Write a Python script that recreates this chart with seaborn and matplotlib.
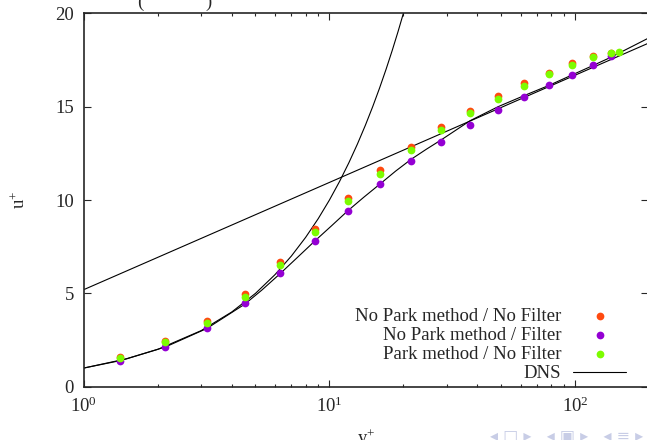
import numpy as np
import pandas as pd
import matplotlib
matplotlib.use("Agg")
import matplotlib.pyplot as plt
import seaborn as sns
from matplotlib.ticker import LogLocator, NullFormatter, FixedLocator

# y+ positions of the computed points
yplus = [1.41, 2.15, 3.17, 4.52, 6.29, 8.71, 11.87, 16.07, 21.5, 28.5,
         37.4, 48.6, 62.2, 78.6, 97.2, 118.0, 140.0]
yplus_park = yplus + [151.0]

# u+ for each run
u_nopark_nofilt = [1.61, 2.45, 3.54, 4.95, 6.66, 8.43, 10.12, 11.59, 12.85, 13.89,
                   14.78, 15.57, 16.25, 16.82, 17.35, 17.73, 17.90]
u_nopark_filt = [1.39, 2.14, 3.16, 4.50, 6.07, 7.79, 9.41, 10.84, 12.09, 13.12,
                 14.02, 14.82, 15.53, 16.16, 16.71, 17.23, 17.73]
u_park_nofilt = [1.55, 2.38, 3.43, 4.82, 6.52, 8.27, 9.95, 11.39, 12.68, 13.75,
                 14.64, 15.41, 16.12, 16.73, 17.25, 17.64, 17.86, 17.93]

# DNS reference profile
dns_y = [1.0, 1.41, 2.15, 3.17, 4.52, 5.3, 6.29, 7.4, 8.71, 10.2, 11.87, 13.8,
         16.07, 18.6, 21.5, 24.8, 28.5, 37.4, 48.6, 62.2, 78.6, 97.2, 118.0, 140.0, 198.0]
dns_u = [1.0, 1.40, 2.13, 3.12, 4.42, 5.17, 6.05, 6.92, 7.80, 8.62, 9.42, 10.15,
         10.86, 11.55, 12.18, 12.72, 13.22, 14.25, 15.0, 15.6, 16.15, 16.7, 17.2, 17.65, 18.66]

# viscous sublayer u+ = y+ and log law
visc_y = [1, 1.5, 2, 3, 4, 5, 6, 7, 8, 9, 10, 11, 12, 13, 14, 15, 16, 17, 18, 19, 20, 21]
visc_u = [1, 1.5, 2, 3, 4, 5, 6, 7, 8, 9, 10, 11, 12, 13, 14, 15, 16, 17, 18, 19, 20, 21]
log_y = [1.0, 198.0]
log_u = [5.2, 18.39]

sns.set_theme(style="ticks")
plt.rcParams["font.family"] = ["Liberation Serif", "DejaVu Serif"]
plt.rcParams["mathtext.fontset"] = "custom"
plt.rcParams["mathtext.rm"] = "Liberation Serif"
plt.rcParams["mathtext.it"] = "Liberation Serif:italic"

fs = 13.5
fig = plt.figure(figsize=(6.47, 4.40), dpi=100)
ax = fig.add_axes([0.1295, 0.1211, 0.872, 0.8486])

sns.lineplot(x=visc_y, y=visc_u, ax=ax, color="black", lw=0.8, sort=False, estimator=None)
sns.lineplot(x=log_y, y=log_u, ax=ax, color="black", lw=0.8, sort=False, estimator=None)

ms = 31
sns.scatterplot(x=yplus, y=u_nopark_nofilt, ax=ax, color="#ff4a10", s=ms, linewidth=0,
                label="No Park method / No Filter", zorder=3)
sns.scatterplot(x=yplus, y=u_nopark_filt, ax=ax, color="#9400d3", s=ms, linewidth=0,
                label="No Park method / Filter", zorder=3)
sns.scatterplot(x=yplus_park, y=u_park_nofilt, ax=ax, color="#7cfc00", s=ms, linewidth=0,
                label="Park method / No Filter", zorder=3)
sns.lineplot(x=dns_y, y=dns_u, ax=ax, color="black", lw=0.8, sort=False, estimator=None,
             label="DNS")

ax.set_xscale("log")
ax.set_xlim(1, 198)
ax.set_ylim(0, 20)
ax.set_yticks([0, 5, 10, 15, 20])
ax.xaxis.set_major_locator(FixedLocator([1, 10, 100]))
ax.set_xticklabels([r"$\mathregular{10^{0}}$", r"$\mathregular{10^{1}}$", r"$\mathregular{10^{2}}$"])
ax.xaxis.set_minor_locator(LogLocator(base=10, subs=np.arange(2, 10)))
ax.xaxis.set_minor_formatter(NullFormatter())

ax.tick_params(which="both", direction="in", top=True, right=True, labelsize=fs, width=0.8)
ax.tick_params(which="major", length=4.8, pad=7)
ax.tick_params(which="minor", length=2.4)
for sp in ax.spines.values():
    sp.set_linewidth(1.2)

ax.set_xlabel(r"$\mathregular{y^{+}}$", fontsize=fs, labelpad=8)
ax.set_ylabel(r"$\mathregular{u^{+}}$", fontsize=fs, labelpad=19)

leg = ax.legend(loc="lower right", bbox_to_anchor=(0.961, 0.012), frameon=False,
                markerfirst=False, fontsize=fs, borderpad=0, borderaxespad=0,
                labelspacing=0.11, handlelength=2.8, handletextpad=0.65)

# cropped title and slide navigation remnants
fig.text(0.213, 0.985, "(             )", fontsize=fs, va="baseline")
fig.text(0.758, -0.006, "\u25c2 \u25a1 \u25b8   \u25c2 \u25a3 \u25b8   \u25c2 \u2261 \u25b8",
         fontsize=11.5, color="#c8cde6", family="DejaVu Sans", va="bottom")

fig.savefig("out.png", dpi=100)
